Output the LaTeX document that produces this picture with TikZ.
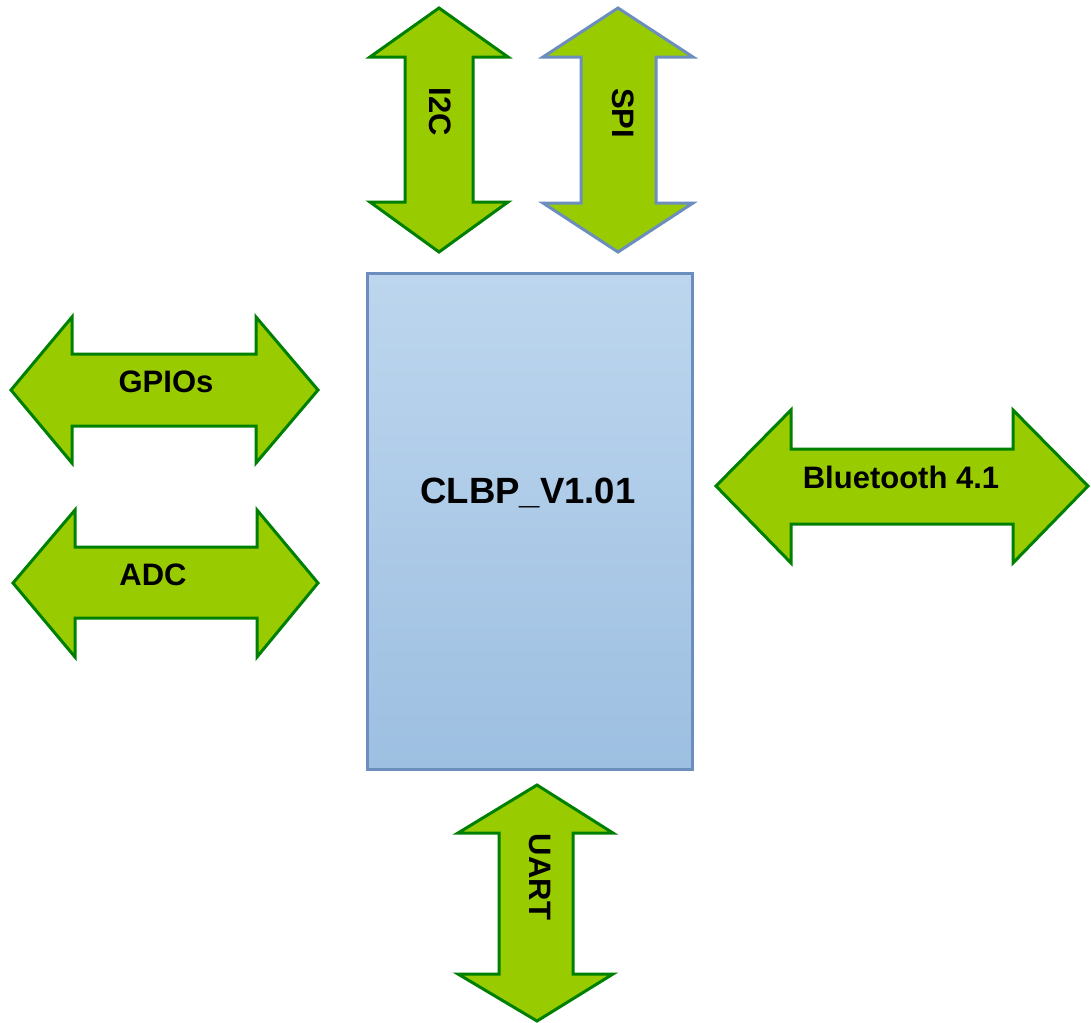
\documentclass[tikz,border=0pt]{standalone}
\usepackage{fontspec}
\setmainfont{Liberation Sans}

\definecolor{busfill}{RGB}{153,204,0}
\definecolor{busline}{RGB}{0,128,0}
\definecolor{boxline}{RGB}{108,142,191}
\definecolor{boxtop}{RGB}{189,214,238}
\definecolor{boxbot}{RGB}{157,191,225}

\tikzset{every picture/.style={line width=0.75pt}}
\tikzset{
  bus/.style={fill=busfill, draw=busline, line width=2.25pt},
  buslabel/.style={inner sep=0pt, font=\fontsize{23.25}{28}\selectfont\bfseries},
}

\begin{document}
\begin{tikzpicture}[x=0.75pt,y=0.75pt,yscale=-1,xscale=1]

\useasboundingbox (0,0) rectangle (1091,1022);

% main board
\node (mcu) [draw=boxline, line width=2.25pt, top color=boxtop, bottom color=boxbot,
  minimum width=243.75pt, minimum height=372pt, inner sep=0pt] at (529.5,521) {};
\node (mcutext) [buslabel, font=\fontsize{27.4}{32}\selectfont\bfseries] at (528,493) {CLBP\_V1.01};

% busses on top
\draw [bus]  (439,8) -- (508,57) -- (473,57) -- (473,202) -- (508,202) -- (439,252) -- (370,202) -- (405,202) -- (405,57) -- (370,57) -- cycle ;
\draw [bus, draw=boxline]  (618,8) -- (693,57) -- (656,57) -- (656,203) -- (693,203) -- (618,252) -- (543,203) -- (581,203) -- (581,57) -- (543,57) -- cycle ;

% busses on the left
\draw [bus]  (11,390) -- (72,317) -- (72,354) -- (256,354) -- (256,317) -- (318,390) -- (256,463) -- (256,426) -- (72,426) -- (72,463) -- cycle ;
\draw [bus]  (13,583) -- (75,510) -- (75,547) -- (257,547) -- (257,510) -- (318,583) -- (257,657) -- (257,618) -- (75,618) -- (75,657) -- cycle ;

% radio
\draw [bus]  (716,486) -- (791,410) -- (791,449) -- (1013,449) -- (1013,410) -- (1088,486) -- (1013,563) -- (1013,524) -- (791,524) -- (791,563) -- cycle ;

% serial
\draw [bus]  (537,785) -- (613,833) -- (573,833) -- (573,974) -- (613,974) -- (537,1021) -- (458,974) -- (499,974) -- (499,833) -- (458,833) -- cycle ;

\node (i2c) [buslabel, rotate=-90] at (440,112) {I2C};
\node (spi) [buslabel, rotate=-90] at (623,113) {SPI};
\node (gpio) [buslabel] at (166,382) {GPIOs};
\node (adc) [buslabel] at (153,575) {ADC};
\node (ble) [buslabel] at (901,477) {Bluetooth 4.1};
\node (uart) [buslabel, rotate=-90] at (540,877) {UART};

\end{tikzpicture}
\end{document}
